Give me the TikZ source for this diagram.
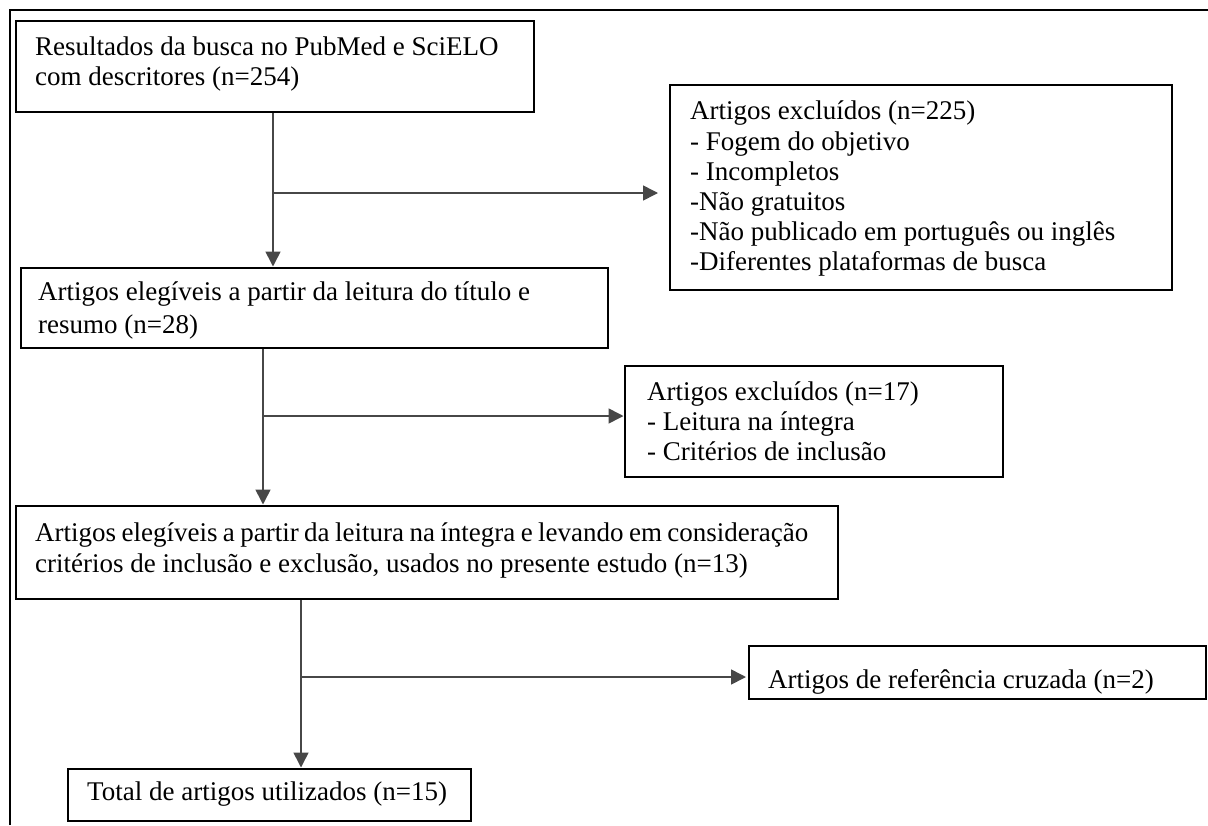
\documentclass[tikz,border=0pt]{standalone}
\usepackage{fontspec}
\setmainfont{Liberation Serif}
\usetikzlibrary{arrows.meta}
\begin{document}
\begin{tikzpicture}[x=1pt,y=-1pt,
  box/.style={draw=black,line width=2pt,rectangle,inner sep=0pt,anchor=north west},
  txt/.style={anchor=base west,inner sep=0pt,font=\fontsize{27}{31}\selectfont},
  conn/.style={draw=black!72,line width=1.6pt},
  arr/.style={conn,-{Triangle[length=15pt,width=15pt]},shorten >=0.5pt}]
\useasboundingbox (0,0) rectangle (1208,825);
% outer frame
\draw[line width=2.5pt] (10,825) -- (10,10) -- (1208,10);
% boxes
\node[box,minimum width=518pt,minimum height=91pt] (b1) at (15,20) {};
\node[box,minimum width=502pt,minimum height=205pt] (e1) at (669,84) {};
\node[box,minimum width=587pt,minimum height=80pt] (b2) at (20,267) {};
\node[box,minimum width=378pt,minimum height=111pt] (e2) at (624,365) {};
\node[box,minimum width=822pt,minimum height=93pt] (b3) at (15,505) {};
\node[box,minimum width=457pt,minimum height=53pt] (r1) at (748,645) {};
\node[box,minimum width=403pt,minimum height=52pt] (b4) at (67,768) {};
% texts
\node[txt] (t1a) at (35,55) {Resultados da busca no PubMed e SciELO};
\node[txt] (t1b) at (35,85) {com descritores (n=254)};
\node[txt] (te1a) at (690,119) {Artigos excluídos (n=225)};
\node[txt] (te1b) at (690,150) {- Fogem do objetivo};
\node[txt] (te1c) at (690,180) {- Incompletos};
\node[txt] (te1d) at (690,210) {-Não gratuitos};
\node[txt] (te1e) at (690,240) {-Não publicado em português ou inglês};
\node[txt] (te1f) at (690,270) {-Diferentes plataformas de busca};
\node[txt] (t2a) at (38,300) {Artigos elegíveis a partir da leitura do título e};
\node[txt] (t2b) at (38,333) {resumo (n=28)};
\node[txt] (te2a) at (647,400) {Artigos excluídos (n=17)};
\node[txt] (te2b) at (647,430) {- Leitura na íntegra};
\node[txt] (te2c) at (647,460) {- Critérios de inclusão};
\node[txt] (t3a) at (35,541) {\spaceskip=0.2em Artigos elegíveis a partir da leitura na íntegra e levando em consideração};
\node[txt] (t3b) at (35,572) {critérios de inclusão e exclusão, usados no presente estudo (n=13)};
\node[txt] (tr) at (768,688) {Artigos de referência cruzada (n=2)};
\node[txt] (t4) at (87,800) {Total de artigos utilizados (n=15)};
% junctions
\coordinate (j1) at (273,193);
\coordinate (j2) at (263,416);
\coordinate (j3) at (301,677);
% connectors
\draw[arr] (b1.south -| j1) -- (b2.north -| j1);
\draw[arr,shorten >=11pt] (j1) -- (e1.west |- j1);
\draw[arr] (b2.south -| j2) -- (b3.north -| j2);
\draw[arr] (j2) -- (e2.west |- j2);
\draw[arr] (b3.south -| j3) -- (b4.north -| j3);
\draw[arr,shorten >=2pt] (j3) -- (r1.west |- j3);
\end{tikzpicture}
\end{document}
